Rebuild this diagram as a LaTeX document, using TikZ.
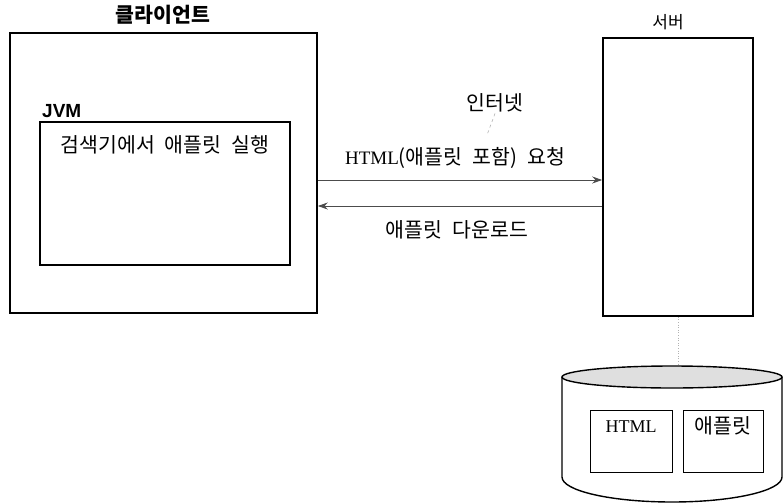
\documentclass[tikz,border=0pt]{standalone}
\usepackage{fontspec}
\setmainfont{Liberation Serif}
\newfontfamily\kr[WordSpace=2.2]{Noto Sans CJK KR}
\newfontfamily\jvmfont{Liberation Sans}
\usetikzlibrary{arrows.meta}

\begin{document}
\begin{tikzpicture}[x=1pt,y=-1pt,
    box/.style={draw, line width=1.6pt, inner sep=0pt},
    inbox/.style={draw, line width=1.2pt, inner sep=0pt},
    lbl/.style={font=\fontsize{20.5}{22}\selectfont\kr, inner sep=1pt},
    arr/.style={-{Stealth[length=10pt,width=7pt]}, line width=1pt, gray!60!black},
    faint/.style={gray!60, line width=0.6pt, dashed}]
    \useasboundingbox (0,0) rectangle (783,503);

    % client side
    \node[box, minimum width=307pt, minimum height=280pt] (client) at (163.5,173) {};
    \node[lbl, font=\fontsize{20.5}{22}\selectfont\kr\bfseries] (clienttitle) at (163,15) {클라이언트};
    \node[inbox, minimum width=250pt, minimum height=143pt] (jvm) at (165,193.5) {};
    \node[font=\fontsize{19}{20}\selectfont\jvmfont\bfseries, inner sep=0pt, anchor=south west] (jvmlabel) at (42,118) {JVM};
    \node[lbl] (run) at (165,145) {검색기에서 애플릿 실행};

    % server side
    \node[box, minimum width=150pt, minimum height=278pt] (server) at (678,177) {};
    \node[lbl, font=\fontsize{17}{18}\selectfont\kr] (servertitle) at (668,22) {서버};

    % internet
    \node[lbl] (net) at (495,103) {인터넷};
    \coordinate (netend) at (487,135);
    \draw[faint] (net.south) -- (netend);
    \node[lbl] (req) at (455,158) {{\rmfamily\fontsize{19}{22}\selectfont HTML}(애플릿 포함) 요청};
    \node[lbl] (down) at (457,230) {애플릿 다운로드};

    \draw[arr] ([yshift=-7pt]client.east) -- ([yshift=-7pt]client.east -| server.west); % request
    \draw[arr] ([yshift=-33pt]client.east -| server.west) -- ([yshift=-33pt]client.east); % download

    % database
    \coordinate (dbtop) at (672,366);
    \fill[gray!25] (672,377) ellipse [x radius=110pt, y radius=11pt];
    \draw[line width=1.4pt] (672,377) ellipse [x radius=110pt, y radius=11pt];
    \draw[line width=1.4pt] (562,377) -- (562,477) arc[start angle=180, end angle=360, x radius=110pt, y radius=25pt] -- (782,377);
    \draw[faint, dotted] (server.south) -- (server.south |- dbtop);

    \node[inbox, line width=1pt, minimum width=82pt, minimum height=62pt] (htmlbox) at (631,441) {};
    \node[inbox, line width=1pt, minimum width=80pt, minimum height=62pt] (appletbox) at (723,441) {};
    \node[font=\fontsize{18}{20}\selectfont, anchor=north] (htmltext) at ([yshift=-8pt]htmlbox.north) {HTML};
    \node[lbl, anchor=north] (applettext) at ([yshift=-6pt]appletbox.north) {애플릿};
\end{tikzpicture}
\end{document}
